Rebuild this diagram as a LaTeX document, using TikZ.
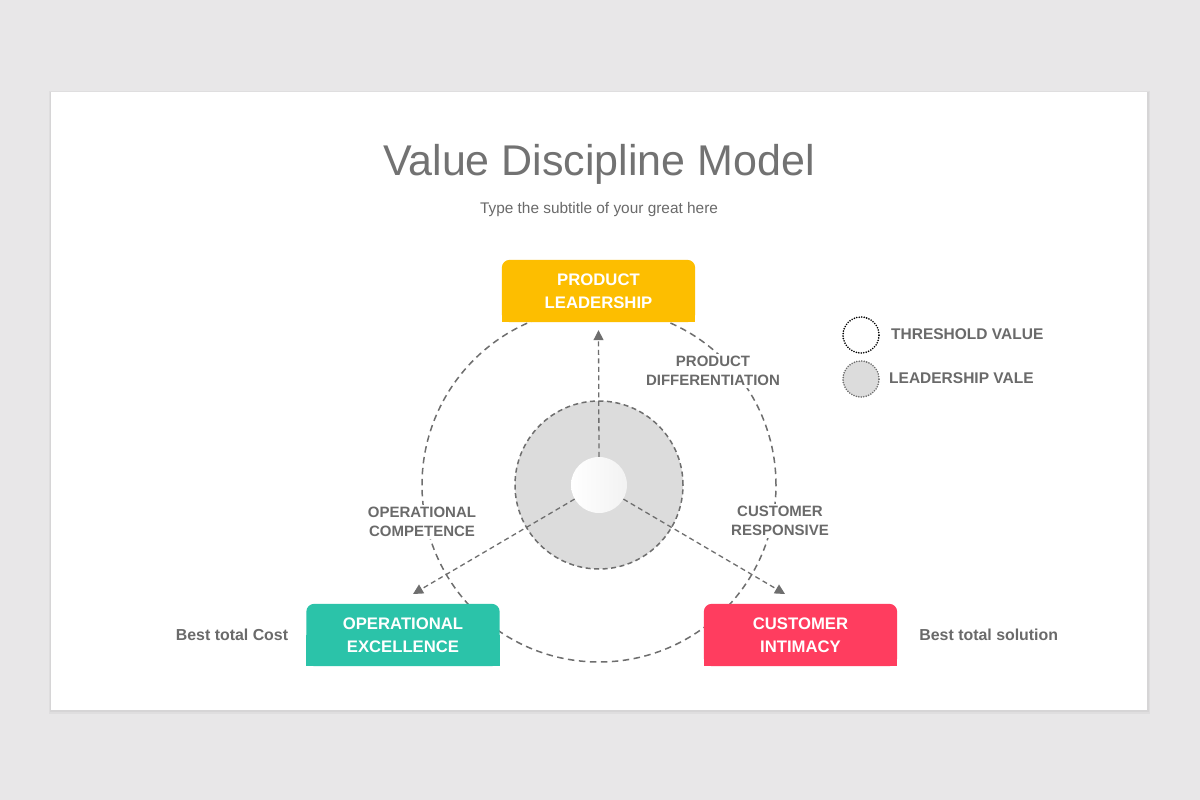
\documentclass[tikz,border=0pt]{standalone}
\usepackage{fontspec}
\setmainfont{Liberation Sans}
\usetikzlibrary{arrows.meta,calc}
\definecolor{bgc}{HTML}{E8E7E8}
\definecolor{ylw}{HTML}{FDBE00}
\definecolor{tealc}{HTML}{2BC3A9}
\definecolor{rosec}{HTML}{FF3D5F}
\definecolor{txt}{HTML}{6A6A6A}
\definecolor{ttl}{HTML}{727272}
\definecolor{dashc}{HTML}{6E6E6E}
\definecolor{ringc}{HTML}{DCDCDC}
\pgfdeclarelayer{bgl}\pgfdeclarelayer{midl}\pgfsetlayers{bgl,midl,main}
\tikzset{
  boxtext/.style={minimum width=193pt, minimum height=62pt, inner sep=0pt, align=center, text=white,
    font=\bfseries\fontsize{16.7}{22.5}\selectfont},
  lbl/.style={fill=white, align=center, text=txt, inner sep=2pt,
    font=\bfseries\fontsize{15}{19}\selectfont},
  side/.style={text=txt, inner sep=0pt, font=\bfseries\fontsize{15.9}{18}\selectfont},
  leg/.style={text=txt, inner sep=0pt, font=\bfseries\fontsize{15.5}{18}\selectfont},
  arr/.style={draw=dashc, line width=1.3pt, dash pattern=on 5pt off 3.5pt, -{Triangle[length=10pt,width=10pt]}},
  ringdash/.style={draw=dashc, line width=1.5pt, dash pattern=on 6.5pt off 4.5pt},
  legdot/.style={circle, minimum size=36pt, inner sep=0pt, line width=1.8pt, line cap=round, dash pattern=on 0pt off 2.5pt},
}
\begin{document}
\begin{tikzpicture}[x=1pt,y=-1pt]
\useasboundingbox (0,0) rectangle (1200,800);
\begin{pgfonlayer}{bgl}
\fill[bgc] (0,0) rectangle (1200,800);
\fill[black, opacity=0.035] (49,91) rectangle (1150,714);
\fill[black, opacity=0.04] (50,92) rectangle (1149,712);
\fill[white] (51,92) rectangle (1147,710);
\node[circle, minimum size=354pt, inner sep=0pt, ringdash] (big) at (599,485) {};
\end{pgfonlayer}

% title
\node[text=ttl, font=\fontsize{43}{48}\selectfont] (title) at (599,164) {Value Discipline Model};
\node[text=txt, font=\fontsize{15.4}{18}\selectfont] (sub) at (599,210) {Type the subtitle of your great here};

% centre circles
\node[circle, minimum size=168pt, inner sep=0pt, fill=ringc, ringdash, dash pattern=on 5pt off 3.5pt] (ring) at (599,485) {};
\node[circle, minimum size=56pt, inner sep=0pt, left color=white, right color=black!5, shading angle=90] (c0) at (599,485) {};

% boxes
\node[boxtext] (pl) at (598.5,291) {PRODUCT\\LEADERSHIP};
\node[boxtext] (ob) at (403,635) {OPERATIONAL\\EXCELLENCE};
\node[boxtext] (ci) at (800.5,635) {CUSTOMER\\INTIMACY};
\begin{pgfonlayer}{midl}
\foreach \b/\c in {pl/ylw, ob/tealc, ci/rosec}{
  \fill[\c, rounded corners=8pt] (\b.south west) rectangle (\b.north east);
  \fill[\c] (\b.south west) rectangle (\b.east);
}
\end{pgfonlayer}

% labels
\node[lbl] (pd) at (713,371) {PRODUCT\\DIFFERENTIATION};
\node[lbl] (oc) at (422,522) {OPERATIONAL\\COMPETENCE};
\node[lbl] (cr) at (780,521) {CUSTOMER\\RESPONSIVE};

% arrows
\coordinate (e1) at (413,594);
\coordinate (e2) at (785,594);
\draw[arr] (c0.north) -- ($(pl.south)+(0,8)$);
\draw[arr] (c0.210) -- (e1);
\draw[arr] (c0.330) -- (e2);

% side texts
\node[side, anchor=east] (bc) at ($(ob.west)+(-18,0)$) {Best total Cost};
\node[side, anchor=west] (bs) at ($(ci.east)+(22,0)$) {Best total solution};

% legend
\node[legdot, draw=black] (lg1) at (861,335) {};
\node[legdot, draw=dashc, fill=ringc] (lg2) at (861,379) {};
\node[leg, anchor=west] (lt1) at (891,334) {THRESHOLD VALUE};
\node[leg, anchor=west] (lt2) at (889,378) {LEADERSHIP VALE};
\end{tikzpicture}
\end{document}
